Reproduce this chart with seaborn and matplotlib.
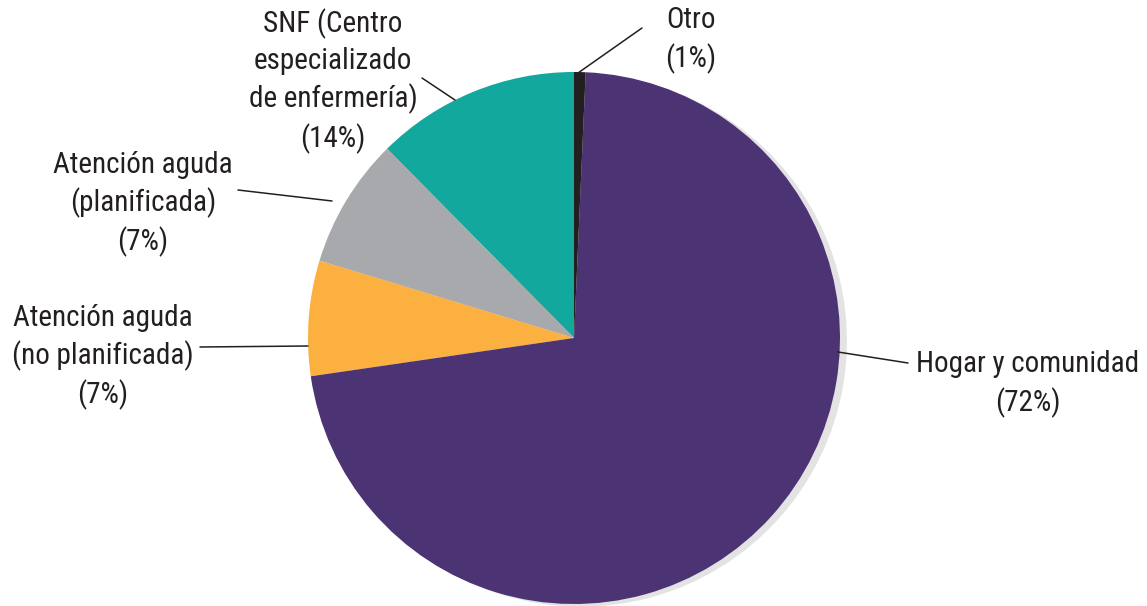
import matplotlib.pyplot as plt
import seaborn as sns
from matplotlib import font_manager

categories = ['SNF (Centro\nespecializado\nde enfermería)', 'Atención aguda\n(planificada)',
              'Atención aguda\n(no planificada)', 'Hogar y comunidad', 'Otro']
shares = [12.4, 7.9, 7.0, 72.0, 0.7]
pct_labels = ['(14%)', '(7%)', '(7%)', '(72%)', '(1%)']
colors = ['#12a89d', '#a7a9ac', '#fbb040', '#4b3374', '#231f20']

sns.set_style('white')
names = {f.name for f in font_manager.fontManager.ttflist}
family = [f for f in ['Roboto Condensed', 'Liberation Sans Narrow', 'Liberation Sans'] if f in names]
plt.rcParams['font.family'] = family + ['DejaVu Sans']

fig = plt.figure(figsize=(11.47, 6.06), dpi=100)
ax = fig.add_axes([0, 0, 1, 1])
H = 606
cx, cy, r = 574, H - 338, 266

ax.pie(shares, colors=colors, startangle=90, counterclock=True,
       center=(cx, cy), radius=r, wedgeprops=dict(linewidth=0),
       shadow=dict(ox=5, oy=-2, facecolor='#b0b0b0', edgecolor='none', alpha=0.35))
ax.set_xlim(0, 1147)
ax.set_ylim(0, H)
ax.set_aspect('equal')
ax.axis('off')

# text centres and leader lines (start on wedge, end near text), in pixels from top-left
text_pos = [(333, 81), (143, 204), (103, 357), (1028, 384), (691, 40)]
lines = [((455, 100), (422, 78)), ((332, 201), (238, 190)), ((308, 346), (200, 347)),
         ((838, 352), (908, 363)), ((578, 73), (642, 28))]

for cat, pct, (tx, ty), (p0, p1) in zip(categories, pct_labels, text_pos, lines):
    ax.text(tx, H - ty, cat + '\n' + pct, ha='center', va='center', fontsize=21,
            color='#231f20', linespacing=1.36)
    ax.plot([p0[0], p1[0]], [H - p0[1], H - p1[1]], color='#231f20', lw=1.1)

fig.savefig('out.png', dpi=100)
